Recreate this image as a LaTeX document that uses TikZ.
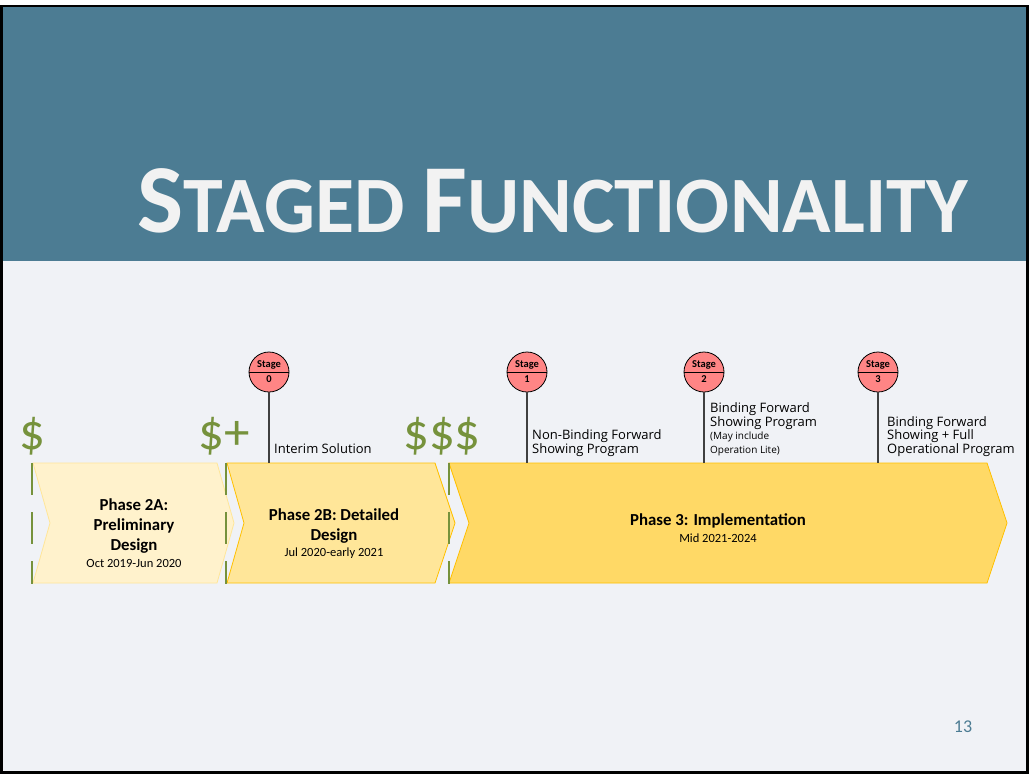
\documentclass[tikz,border=0pt]{standalone}
\usepackage{fontspec}
\setmainfont{Carlito}
\newfontfamily\labfont{Open Sans}
\definecolor{hdr}{HTML}{4C7C93}
\definecolor{bg}{HTML}{F0F2F6}
\definecolor{grn}{HTML}{76923C}
\definecolor{fillA}{HTML}{FFF2CC}
\definecolor{lineA}{HTML}{FFE699}
\definecolor{fillB}{HTML}{FFE699}
\definecolor{fillC}{HTML}{FFD966}
\definecolor{lineBC}{HTML}{FFC000}
\definecolor{stg}{HTML}{FF8585}
\definecolor{ttl}{HTML}{F2F2F2}
\definecolor{stemc}{HTML}{404040}
\begin{document}
\begin{tikzpicture}[x=1pt,y=-1pt,
  chevA/.style={fill=fillA,draw=lineA,line width=0.8pt},
  chevB/.style={fill=fillB,draw=lineBC,line width=0.8pt},
  chevC/.style={fill=fillC,draw=lineBC,line width=0.8pt},
  mark line/.style={draw=grn,line width=2.6pt,dash pattern=on 32pt off 17pt},
  money/.style={text=grn,font=\fontsize{51}{51}\selectfont,inner sep=0pt},
  phasetitle/.style={font=\fontsize{16.8}{20}\selectfont\bfseries,align=center,inner sep=0pt},
  phasedate/.style={font=\fontsize{12.5}{13}\selectfont,inner sep=0pt},
  stagecirc/.style={circle,draw=black,line width=0.8pt,fill=stg,minimum size=40pt,inner sep=0pt},
  stagetxt/.style={font=\fontsize{10.5}{11}\selectfont\bfseries,inner sep=0pt},
  stem/.style={draw=stemc,line width=1.2pt},
  lab/.style={font=\labfont\fontsize{13}{13.5}\selectfont,anchor=base west,inner sep=0pt,align=left},
  labsmall/.style={font=\labfont\fontsize{10}{13}\selectfont,anchor=base west,inner sep=0pt}
]
\useasboundingbox (0,0) rectangle (1029,774);
\fill[white] (0,0) rectangle (1029,774);
\fill[bg] (0,261) rectangle (1029,774);
\fill[hdr] (0,6) rectangle (1029,261);
\draw[black,line width=2.6pt] (1.5,6) rectangle (1027.5,772.5);

% title
\node[anchor=base west,inner sep=0pt,text=ttl] (title) at (137,232)
  {\bfseries\fontsize{97.5}{97.5}\selectfont S\fontsize{80}{80}\selectfont TAGED \fontsize{97.5}{97.5}\selectfont F\fontsize{80}{80}\selectfont UNCTIONALITY};

% chevrons
\draw[chevA] (33,463) -- (217,463) -- (234,523) -- (217,583) -- (33,583) -- (50,523) -- cycle;
\draw[chevB] (227,463) -- (435,463) -- (455,523) -- (435,583) -- (227,583) -- (244,523) -- cycle;
\draw[chevC] (449,463) -- (987,463) -- (1007,523) -- (987,583) -- (449,583) -- (469,523) -- cycle;
\coordinate (bartop) at (0,463);

% dashed markers
\draw[mark line] (32,463) -- (32,584);
\draw[mark line] (226,463) -- (226,584);
\draw[mark line] (449,463) -- (449,584);

% money
\node[money] (m1) at (32,436) {\$};
\node[money] (m2) at (224,436) {\$+};
\node[money] (m3) at (442,436) {\$\$\$};

% phase texts
\node[phasetitle,anchor=base] (pA) at (134,550) {Phase 2A:\\Preliminary\\Design};
\node[phasedate,anchor=base] (dA) at (134,567) {Oct 2019-Jun 2020};
\node[phasetitle,anchor=base] (pB) at (334,540) {Phase 2B: Detailed\\Design};
\node[phasedate,anchor=base] (dB) at (334,556) {Jul 2020-early 2021};
\node[phasetitle,anchor=base] (pC) at (718,525) {Phase 3: Implementation};
\node[phasedate,anchor=base] (dC) at (718,542) {Mid 2021-2024};

% stages
\foreach \n/\x in {0/269,1/527,2/704,3/878}{
  \node[stagecirc] (s\n) at (\x,372) {};
  \draw[black,line width=0.9pt] (s\n.west) -- (s\n.east);
  \node[stagetxt] (st\n) at (\x,364.5) {Stage};
  \node[stagetxt] (sn\n) at (\x,379.5) {\n};
  \draw[stem] (s\n.south) -- (s\n.south |- bartop);
}

% labels
\node[lab] (l0) at (274,453) {Interim Solution};
\node[lab] (l1) at (532,453) {Non-Binding Forward\\Showing Program};
\node[lab] (l2) at (710,426) {Binding Forward\\Showing Program};
\node[labsmall] (l2a) at (710,439) {(May include};
\node[labsmall] (l2b) at (710,453) {Operation Lite)};
\node[lab] (l3) at (887,453) {Binding Forward\\Showing + Full\\Operational Program};

% page number
\node[text=hdr,font=\fontsize{18}{18}\selectfont,inner sep=0pt] (pg) at (963,727) {13};
\end{tikzpicture}
\end{document}
